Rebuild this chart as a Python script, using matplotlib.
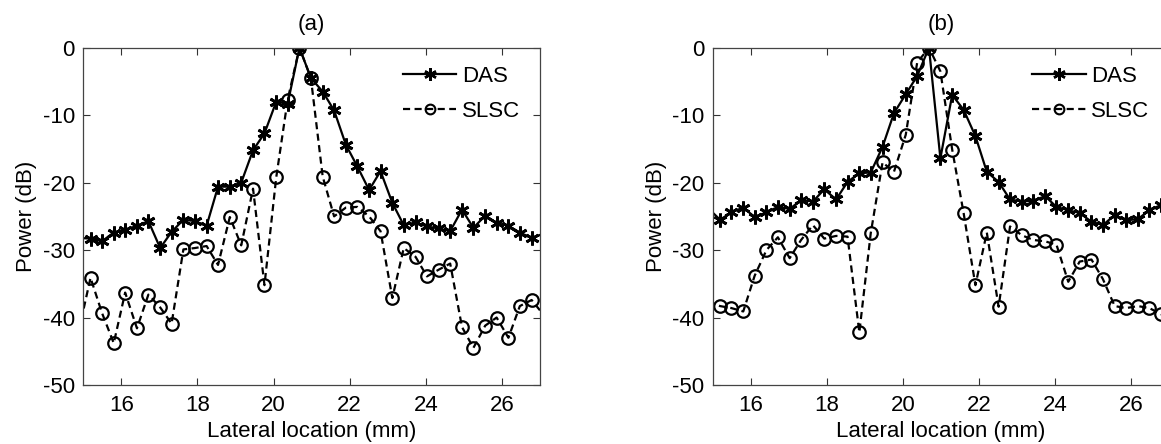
import matplotlib
matplotlib.use("Agg")
import matplotlib.pyplot as plt
from matplotlib.lines import Line2D

plt.rcParams['font.family'] = ['Liberation Sans', 'DejaVu Sans']
plt.rcParams['axes.unicode_minus'] = False

# Lateral sample positions (mm); first and last lie just outside the view
lateral_mm = [14.88, 15.19, 15.49, 15.80, 16.10, 16.41, 16.71, 17.02, 17.32, 17.63,
              17.93, 18.24, 18.54, 18.85, 19.15, 19.46, 19.76, 20.07, 20.37, 20.68,
              20.98, 21.29, 21.59, 21.90, 22.20, 22.51, 22.81, 23.12, 23.42, 23.73,
              24.03, 24.34, 24.64, 24.95, 25.25, 25.56, 25.86, 26.17, 26.47, 26.78,
              27.08]

das_a = [-28.2, -28.3, -28.7, -27.4, -27.0, -26.4, -25.7, -29.7, -27.3, -25.5,
         -25.7, -26.4, -20.6, -20.6, -20.0, -15.2, -12.7, -8.0, -8.3, 0.0,
         -4.5, -6.5, -9.3, -14.4, -17.6, -21.1, -18.3, -23.0, -26.3, -25.9,
         -26.5, -26.8, -27.2, -24.0, -26.7, -24.9, -26.0, -26.4, -27.4, -28.2,
         -27.6]
slsc_a = [-42.0, -34.1, -39.3, -43.8, -36.3, -41.6, -36.6, -38.5, -40.9, -29.9,
          -29.7, -29.4, -32.2, -25.1, -29.3, -20.9, -35.2, -19.2, -7.7, 0.0,
          -4.5, -19.1, -25.0, -23.7, -23.6, -25.0, -27.2, -37.1, -29.7, -31.0,
          -33.9, -32.9, -32.0, -41.4, -44.5, -41.2, -40.0, -43.0, -38.3, -37.4,
          -39.5]
das_b = [-23.8, -25.5, -24.4, -23.7, -25.1, -24.4, -23.6, -23.9, -22.6, -22.8,
         -21.0, -22.5, -19.9, -18.6, -18.5, -14.7, -9.7, -6.9, -4.2, 0.0,
         -16.4, -7.0, -9.2, -13.1, -18.4, -19.9, -22.5, -22.8, -22.7, -22.0,
         -23.6, -24.1, -24.5, -25.8, -26.3, -24.8, -25.6, -25.4, -24.1, -23.3,
         -23.0]
slsc_b = [-37.6, -38.3, -38.6, -39.1, -33.8, -30.0, -28.1, -31.2, -28.5, -26.3,
          -28.3, -27.9, -28.0, -42.2, -27.5, -17.0, -18.4, -12.9, -2.2, 0.0,
          -3.5, -15.1, -24.5, -35.2, -27.4, -38.4, -26.5, -27.8, -28.5, -28.7,
          -29.2, -34.7, -31.7, -31.4, -34.3, -38.3, -38.6, -38.3, -38.6, -39.5,
          -41.0]

titles = ["(a)", "(b)"]
series_names = ["DAS", "SLSC"]
x_ticks = [16, 18, 20, 22, 24, 26]
y_ticks = [0, -10, -20, -30, -40, -50]
x_label = "Lateral location (mm)"
y_label = "Power (dB)"

W, H = 1161, 444
fig = plt.figure(figsize=(W / 100, H / 100), dpi=100)

FS = 16
ast = (6, 2, 0)
dash = (0, (3.2, 2.0))
visible = slice(1, len(lateral_mm) - 1)   # markers only for samples inside the view

panels = [(das_a, slsc_a), (das_b, slsc_b)]
lefts = [83.3, 712.8]
ax_w, ax_top, ax_bot = 456.7, 47.7, 385.0

for i, (das, slsc) in enumerate(panels):
    ax = fig.add_axes([lefts[i] / W, (H - ax_bot) / H, ax_w / W, (ax_bot - ax_top) / H])
    ax.plot(lateral_mm, das, color='black', lw=1.6, ls='-', marker=ast,
            ms=10, mew=2.0, mec='black', markevery=visible, label=series_names[0])
    ax.plot(lateral_mm, slsc, color='black', lw=1.6, ls=dash, marker='o',
            ms=9, mew=1.6, mfc='none', mec='black', markevery=visible,
            label=series_names[1])
    ax.set_xlim(15, 27)
    ax.set_ylim(-50, 0)
    ax.set_xticks(x_ticks)
    ax.set_yticks(y_ticks)
    ax.tick_params(direction='in', top=True, right=True, length=5, width=0.8,
                   labelsize=FS, color='#333333', pad=6)
    ax.tick_params(axis='x', pad=7)
    for s in ax.spines.values():
        s.set_color('#444444')
        s.set_linewidth(0.9)
    ax.set_xlabel(x_label, fontsize=FS, labelpad=4)
    ax.set_ylabel(y_label, fontsize=FS, labelpad=4)
    ax.set_title(titles[i], fontsize=FS, pad=13)
    h = [Line2D([], [], color='black', lw=1.6, ls='-', marker=ast, ms=9, mew=1.8),
         Line2D([], [], color='black', lw=1.6, ls=dash, marker='o', ms=7,
                mew=1.5, mfc='none')]
    ax.legend(h, series_names, loc='upper left', bbox_to_anchor=(0.70, 0.945),
              frameon=False, fontsize=FS, handlelength=2.4, handletextpad=0.25,
              borderpad=0, borderaxespad=0, labelspacing=0.6, numpoints=1)

fig.savefig("out.png", dpi=100)
